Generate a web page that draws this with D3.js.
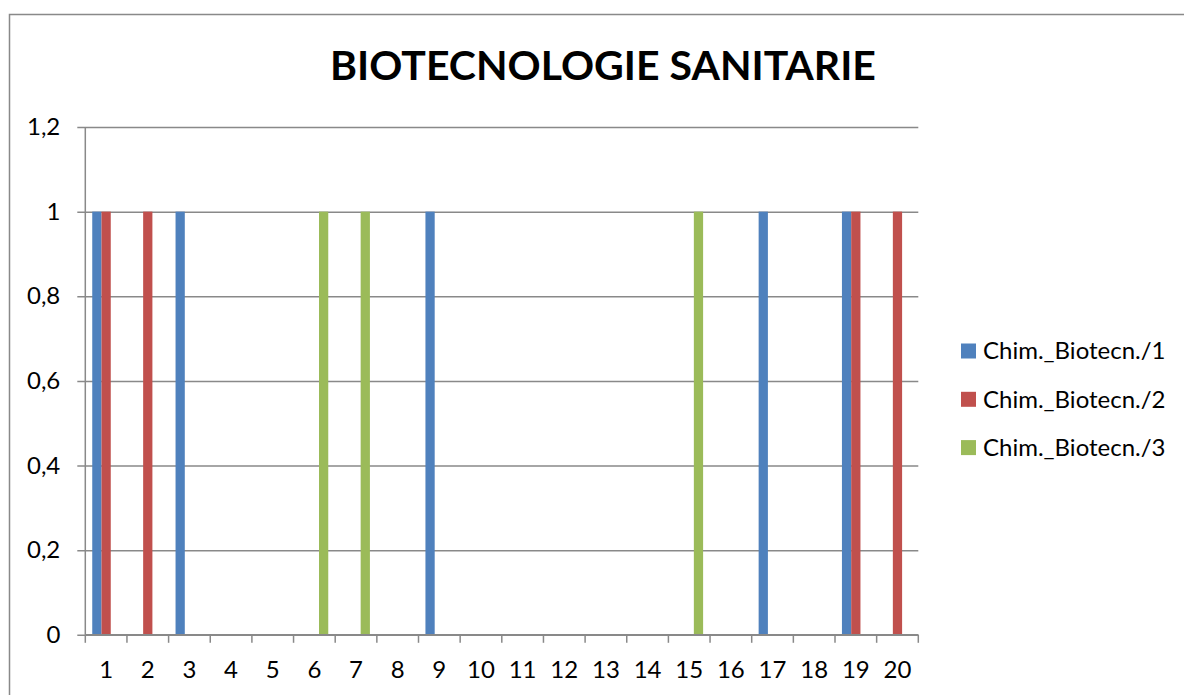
<!DOCTYPE html>
<html>
<head>
<meta charset="utf-8">
<title>BIOTECNOLOGIE SANITARIE</title>
<style>
    body { margin: 0; background: #fff; }
    svg { display: block; font-family: Lato, "Open Sans", sans-serif; }
</style>
</head>
<body>
<main></main>
<script src="https://cdn.jsdelivr.net/npm/d3@7"></script>
<script>
    // data ============================
    var categories = ["1","2","3","4","5","6","7","8","9","10","11","12","13","14","15","16","17","18","19","20"];
    var seriesNames = ["Chim._Biotecn./1", "Chim._Biotecn./2", "Chim._Biotecn./3"];
    var serie1 = [1,0,1,0,0,0,0,0,1,0,0,0,0,0,0,0,1,0,1,0];
    var serie2 = [1,1,0,0,0,0,0,0,0,0,0,0,0,0,0,0,0,0,1,1];
    var serie3 = [0,0,0,0,0,1,1,0,0,0,0,0,0,0,1,0,0,0,0,0];
    var yTicks = [0, 0.2, 0.4, 0.6, 0.8, 1, 1.2];
    var colors = ["#4F81BD", "#C0504D", "#9BBB59"];
    var title = "BIOTECNOLOGIE SANITARIE";

    var width = 1184;
    var height = 695;
    var plot = {left: 85.3, right: 918.3, top: 127, bottom: 634.8};
    var gridColor = "#898989";
    var labelSize = "24px";

    var svg = d3.select("main")
        .append("svg")
        .attr("width", width)
        .attr("height", height);

    // outer frame (runs past the window on right and bottom)
    svg.append("rect")
        .attr("x", 9.5).attr("y", 14.5)
        .attr("width", 1300).attr("height", 800)
        .attr("fill", "none")
        .attr("stroke", gridColor)
        .attr("stroke-width", 1.5);

    // scales ==========================
    var x0 = d3.scaleBand().domain(categories).range([plot.left, plot.right]).padding(0);
    var bw = x0.bandwidth();
    // 3 bars per group, gap = 150% of a bar
    var x1 = d3.scaleBand().domain(seriesNames).range([bw / 6, bw * 5 / 6]).padding(0);
    var y = d3.scaleLinear().domain([0, 1.2]).range([plot.bottom, plot.top]);

    // gridlines (axis at right edge, lines run left past the y axis)
    var gy = svg.append("g")
        .attr("transform", "translate(" + plot.right + ",0)");
    gy.call(d3.axisLeft(y).tickValues(yTicks).tickSize(plot.right - plot.left + 8).tickFormat(""));
    gy.select(".domain").remove();
    gy.selectAll("line").attr("stroke", gridColor).attr("stroke-width", 1.5);

    // y labels
    var gl = svg.append("g")
        .attr("transform", "translate(" + (plot.left - 8) + ",0)");
    gl.call(d3.axisLeft(y).tickValues(yTicks).tickSize(0).tickPadding(17)
        .tickFormat(function (d) { return d3.format("~g")(d).replace(".", ","); }));
    gl.select(".domain").remove();
    gl.selectAll("text")
        .attr("font-family", "Lato, 'Open Sans', sans-serif")
        .attr("font-size", labelSize)
        .attr("fill", "#000");

    // y axis line
    svg.append("line")
        .attr("x1", plot.left).attr("x2", plot.left)
        .attr("y1", plot.top).attr("y2", plot.bottom)
        .attr("stroke", gridColor).attr("stroke-width", 1.5);

    // bars ============================
    var allSeries = [serie1, serie2, serie3];
    allSeries.forEach(function (vals, si) {
        svg.append("g").selectAll("rect")
            .data(vals)
            .enter()
            .append("rect")
            .attr("x", function (d, i) { return x0(categories[i]) + x1(seriesNames[si]); })
            .attr("y", function (d) { return y(d); })
            .attr("width", x1.bandwidth())
            .attr("height", function (d) { return y(0) - y(d); })
            .attr("fill", colors[si]);
    });

    // x axis ==========================
    var tickPos = categories.map(function (c) { return x0(c); }).concat([plot.right]);
    var gx = svg.append("g");
    gx.append("line")
        .attr("x1", plot.left).attr("x2", plot.right)
        .attr("y1", plot.bottom).attr("y2", plot.bottom)
        .attr("stroke", gridColor).attr("stroke-width", 1.5);
    gx.selectAll("line.tick")
        .data(tickPos)
        .enter()
        .append("line")
        .attr("class", "tick")
        .attr("x1", function (d) { return d; }).attr("x2", function (d) { return d; })
        .attr("y1", plot.bottom).attr("y2", plot.bottom + 8)
        .attr("stroke", gridColor).attr("stroke-width", 1.5);
    gx.selectAll("text")
        .data(categories)
        .enter()
        .append("text")
        .attr("x", function (d) { return x0(d) + bw / 2; })
        .attr("y", 670)
        .attr("dy", "0.35em")
        .attr("text-anchor", "middle")
        .attr("font-size", labelSize)
        .attr("fill", "#000")
        .text(function (d) { return d; });

    // title ===========================
    svg.append("text")
        .attr("x", 603)
        .attr("y", 66)
        .attr("dy", "0.35em")
        .attr("text-anchor", "middle")
        .attr("font-size", "41px")
        .attr("font-weight", "bold")
        .attr("fill", "#000")
        .text(title);

    // legend ==========================
    var legend = svg.append("g").selectAll("g")
        .data(seriesNames)
        .enter()
        .append("g")
        .attr("transform", function (d, i) { return "translate(961," + (351 + i * 48.3) + ")"; });
    legend.append("rect")
        .attr("x", 0).attr("y", -7.5)
        .attr("width", 15).attr("height", 15)
        .attr("fill", function (d, i) { return colors[i]; });
    legend.append("text")
        .attr("x", 22)
        .attr("y", 0)
        .attr("dy", "0.35em")
        .attr("font-size", labelSize)
        .attr("fill", "#000")
        .text(function (d) { return d; });
</script>
</body>
</html>
